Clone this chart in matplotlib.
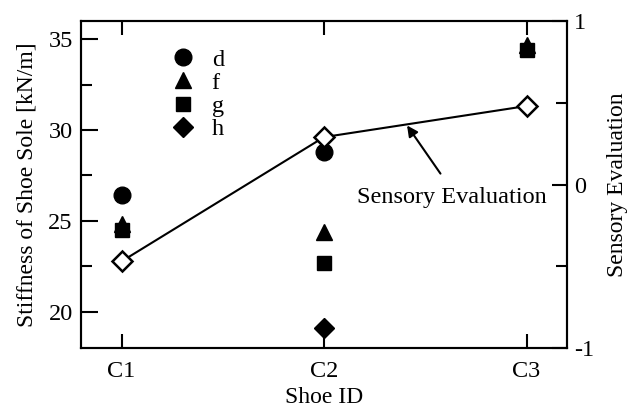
import matplotlib
matplotlib.use("Agg")
import matplotlib.pyplot as plt
from matplotlib.ticker import MultipleLocator
import numpy as np

plt.rcParams["font.family"] = ["Liberation Serif", "DejaVu Serif"]
plt.rcParams["axes.unicode_minus"] = False

# data
shoes = ["C1", "C2", "C3"]
stiff_d = [26.45, 28.8, np.nan]
stiff_f = [24.85, 24.4, 34.7]
stiff_g = [24.5, 22.7, 34.4]
stiff_h = [np.nan, 19.1, np.nan]
sensory = [-0.47, 0.29, 0.48]

x = np.arange(1, len(shoes) + 1)
FS = 17.5

fig = plt.figure(figsize=(6.4, 4.09), dpi=100)
ax = fig.add_axes([0.1266, 0.149, 0.7594, 0.7997])
ax2 = ax.twinx()

ms = 12
ax.plot(x, stiff_d, "o", color="black", ms=ms, label="d", clip_on=False)
ax.plot(x, stiff_g, "s", color="black", ms=ms - 1.5, label="g", clip_on=False)
ax.plot(x, stiff_f, "^", color="black", ms=ms, label="f", clip_on=False)
ax.plot(x, stiff_h, "D", color="black", ms=ms - 1.5, label="h", clip_on=False)

ax2.plot(x, sensory, "-", color="black", lw=1.5, marker="D", ms=10,
         mfc="white", mec="black", mew=1.8, zorder=5)

ax.set_xlim(0.8, 3.2)
ax.set_ylim(18, 36)
ax2.set_ylim(-1, 1)

ax.set_xticks(x)
ax.set_xticklabels(shoes)
ax.yaxis.set_major_locator(MultipleLocator(5))
ax.yaxis.set_minor_locator(MultipleLocator(2.5))
ax2.set_yticks([-1, 0, 1])
ax2.set_yticklabels(["-1", "0", "1"])
ax2.yaxis.set_minor_locator(MultipleLocator(0.5))

ax.tick_params(axis="x", direction="in", top=True, length=10, width=1.5,
               labelsize=FS, pad=9)
ax.tick_params(axis="y", which="major", direction="in", length=12, width=1.5,
               labelsize=FS, pad=6)
ax.tick_params(axis="y", which="minor", direction="in", length=8, width=1.5)
ax2.tick_params(axis="y", which="major", direction="in", length=11, width=1.5,
                labelsize=FS, pad=5)
ax2.tick_params(axis="y", which="minor", direction="in", length=8, width=1.5)
for a in (ax, ax2):
    for s in a.spines.values():
        s.set_linewidth(1.5)

ax.set_xlabel("Shoe ID", fontsize=FS - 0.5, labelpad=4)
ax.set_ylabel("Stiffness of Shoe Sole [kN/m]", fontsize=FS - 0.5, labelpad=8)
ax2.set_ylabel("Sensory Evaluation", fontsize=FS - 0.5, labelpad=9)

# legend order d, f, g, h
h, l = ax.get_legend_handles_labels()
order = [l.index(k) for k in ["d", "f", "g", "h"]]
ax.legend([h[i] for i in order], [l[i] for i in order], loc="upper left",
          bbox_to_anchor=(0.164, 0.945), frameon=False, fontsize=FS,
          handlelength=1.0, handletextpad=0.7, labelspacing=0.05,
          borderaxespad=0)

ax.annotate("", xy=(2.41, 30.25), xytext=(2.575, 27.6),
            arrowprops=dict(arrowstyle="-|>", color="black", lw=1.5,
                            mutation_scale=16, shrinkA=0, shrinkB=0))
ax.text(2.63, 26.3, "Sensory Evaluation", fontsize=FS, ha="center", va="center")

fig.savefig("out.png", dpi=100)
